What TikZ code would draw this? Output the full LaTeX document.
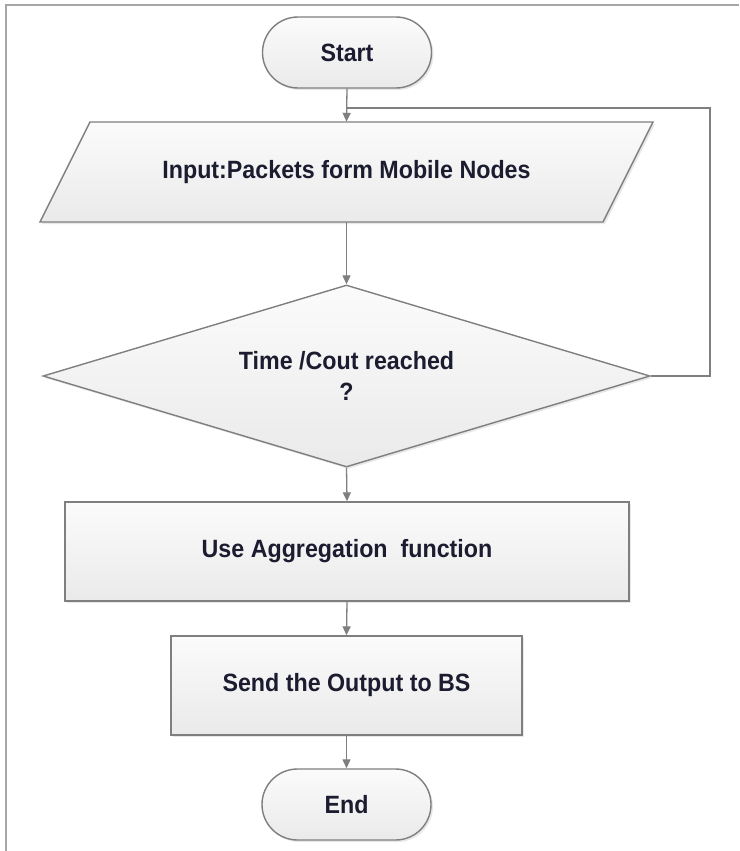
\documentclass[tikz,border=0pt]{standalone}
\usepackage{fontspec}
\setmainfont{Liberation Sans}[FakeStretch=0.93]
\usetikzlibrary{shapes.geometric,shapes.misc,arrows.meta,shadows}
\definecolor{edge}{HTML}{7F7F7F}
\definecolor{frame}{HTML}{A6A6A6}
\definecolor{txt}{HTML}{1C1C30}
\definecolor{filltop}{HTML}{FBFBFB}
\definecolor{fillbot}{HTML}{EAEAEA}
\begin{document}
\begin{tikzpicture}[x=1pt,y=-1pt,
  label/.style={text=txt, font=\fontsize{25}{31}\selectfont\bfseries, align=center, inner sep=0pt},
  box/.style={label, draw=edge, line width=1.4pt, top color=filltop, bottom color=fillbot,
    drop shadow={opacity=0.18, shadow xshift=2pt, shadow yshift=-2pt}},
  term/.style={box, rounded rectangle, minimum width=169pt, minimum height=71pt},
  proc/.style={box, rectangle, minimum height=99pt},
  decide/.style={box, diamond, aspect=3.33, minimum width=607pt, minimum height=182pt},
  conn/.style={draw=edge, line width=1.3pt, -{Triangle[length=9pt,width=8pt]}},
  plain/.style={draw=edge, line width=1.3pt}
]
\useasboundingbox (0,0) rectangle (739,851);
\fill[white] (0,0) rectangle (739,851);
\draw[frame, line width=2pt] (6,851) -- (6,5) -- (739,5);

\node[term] (start) at (347,52.5) {Start};
\path[box] (90,122) -- (653,122) -- (603,222) -- (40,222) -- cycle;
\node[label, minimum width=563pt, minimum height=100pt] (input) at (346.5,172) {Input:Packets form Mobile Nodes};
\node[decide] (dec) at (346.5,376) {Time /Cout reached\\?};
\node[proc, minimum width=564pt] (agg) at (347,551.5) {Use Aggregation\ \ function};
\node[proc, minimum width=351pt] (send) at (346.5,685.5) {Send the Output to BS};
\node[term] (end) at (346.5,804.5) {End};

\coordinate (loopR) at (710,108);
\coordinate (loopL) at (347,108);

\draw[conn] (start.south) -- (input.north);
\draw[conn] (input.south) -- (dec.north);
\draw[conn] (dec.south) -- (agg.north);
\draw[conn] (agg.south) -- (send.north);
\draw[conn] (send.south) -- (end.north);
\draw[plain] (dec.east) -| (loopR) -- (loopL);
\end{tikzpicture}
\end{document}
